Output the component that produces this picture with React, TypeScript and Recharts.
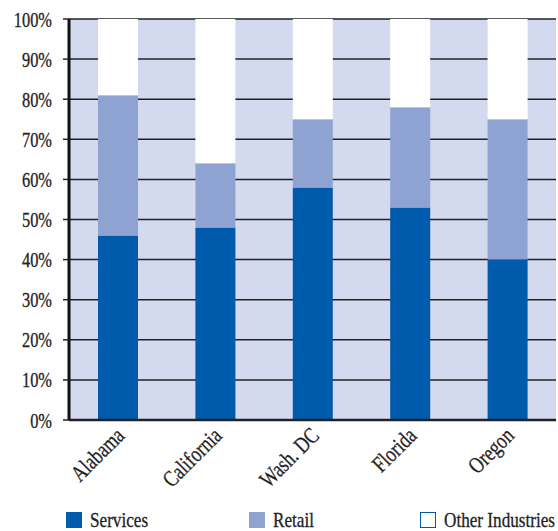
import React from "react";
import { BarChart, Bar, XAxis, YAxis, CartesianGrid, Legend } from "recharts";

const states = ["Alabama", "California", "Wash. DC", "Florida", "Oregon"];
const services = [46, 48, 58, 53, 40];
const retail = [35, 16, 17, 25, 35];
const other = [19, 36, 25, 22, 25];
const yTicks = [0, 10, 20, 30, 40, 50, 60, 70, 80, 90, 100];

const series = [
  { key: "services", name: "Services", color: "#005BAC" },
  { key: "retail", name: "Retail", color: "#8FA3D3" },
  { key: "other", name: "Other Industries", color: "#FFFFFF" },
];

const data = states.map((s, i) => ({
  state: s,
  services: services[i],
  retail: retail[i],
  other: other[i],
}));

const FONT = "'Liberation Serif', 'Times New Roman', serif";
const SX = 0.78;

const YTick = (props: any) => {
  const { x, y, payload } = props;
  return (
    <g transform={`translate(${x},${y}) scale(${SX},1)`}>
      <text x={0} y={0} dy="0.36em" textAnchor="end" fontFamily={FONT} fontSize={21} fill="#222" stroke="#222" strokeWidth={0.3}>
        {payload.value}%
      </text>
    </g>
  );
};

const XTick = (props: any) => {
  const { x, y, payload } = props;
  return (
    <g transform={`translate(${x + 8},${y + 5}) rotate(-45) scale(${SX},1)`}>
      <text x={0} y={0} textAnchor="end" fontFamily={FONT} fontSize={23} fill="#222" stroke="#222" strokeWidth={0.3}>
        {payload.value}
      </text>
    </g>
  );
};

const legendX = [66, 249, 420];

const LegendContent = () => (
  <div style={{ position: "relative", width: 558, height: 30 }}>
    {series.map((s, i) => (
      <div key={s.key} style={{ position: "absolute", left: legendX[i], top: 0, display: "flex", alignItems: "center" }}>
        <div
          style={{
            width: 14,
            height: 14,
            background: s.color,
            border: s.key === "other" ? "1.5px solid #005BAC" : "1.5px solid " + s.color,
          }}
        />
        <span
          style={{
            marginLeft: 8,
            fontFamily: FONT,
            fontSize: 22,
            color: "#222",
            display: "inline-block",
            transform: `scale(${SX},1)`,
            transformOrigin: "left center",
            whiteSpace: "nowrap",
            lineHeight: "22px",
            WebkitTextStroke: "0.3px #222",
          }}
        >
          {s.name}
        </span>
      </div>
    ))}
  </div>
);

export default function App() {
  return (
    <div style={{ position: "absolute", left: 0, top: 0, width: 558, height: 531, background: "#fff" }}>
      <BarChart width={558} height={531} data={data} margin={{ top: 19, right: 2, bottom: 0, left: 0 }}>
        <CartesianGrid vertical={false} horizontal={true} stroke="#222" strokeWidth={1.5} fill="#D3D9EE" fillOpacity={1} />
        <XAxis
          dataKey="state"
          height={81}
          tick={<XTick />}
          tickLine={false}
          axisLine={{ stroke: "#222", strokeWidth: 2.5 }}
          interval={0}
          tickMargin={6}
        />
        <YAxis
          width={69}
          domain={[0, 100]}
          ticks={yTicks}
          tick={<YTick />}
          tickSize={6}
          tickMargin={11}
          tickLine={{ stroke: "#222", strokeWidth: 1.5 }}
          axisLine={{ stroke: "#111", strokeWidth: 3 }}
          interval={0}
        />
        <Legend
          verticalAlign="bottom"
          content={<LegendContent />}
          wrapperStyle={{ position: "absolute", left: 0, top: 509, width: 558 }}
        />
        {series.map((s) => (
          <Bar key={s.key} dataKey={s.key} name={s.name} stackId="a" fill={s.color} barSize={40} isAnimationActive={false} />
        ))}
      </BarChart>
    </div>
  );
}
